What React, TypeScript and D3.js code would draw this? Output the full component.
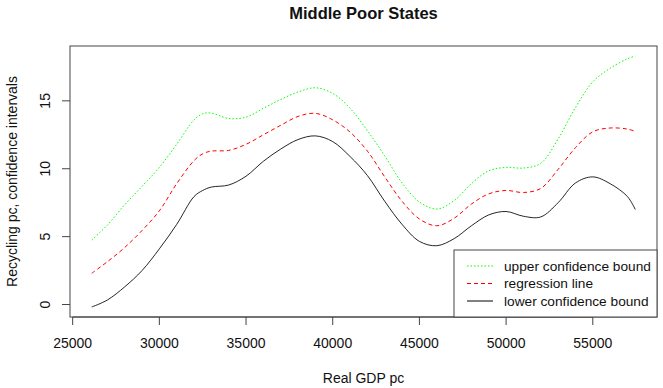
import React, { useEffect } from "react";
import * as d3 from "d3";

// GDP grid (x) and the three curves
const gdp = [26100, 27000, 28000, 29000, 30000, 31000, 32000, 32500, 33000, 34000, 35000, 36000, 37000, 38000, 39000, 40000, 41000, 42000, 43000, 44000, 45000, 46000, 47000, 48000, 49000, 50000, 51000, 52000, 53000, 54000, 55000, 56000, 57000, 57450];
const upper = [4.75, 5.85, 7.35, 8.7, 10.1, 11.8, 13.6, 14.05, 14.1, 13.7, 13.8, 14.45, 15.1, 15.65, 15.96, 15.55, 14.45, 12.8, 10.95, 8.95, 7.55, 7.03, 7.65, 8.9, 9.85, 10.1, 10.05, 10.4, 12.2, 14.5, 16.4, 17.4, 18.1, 18.3];
const regression = [2.3, 3.15, 4.2, 5.45, 6.9, 8.9, 10.6, 11.1, 11.3, 11.35, 11.8, 12.5, 13.2, 13.85, 14.08, 13.6, 12.7, 11.3, 9.4, 7.6, 6.3, 5.8, 6.35, 7.4, 8.15, 8.4, 8.25, 8.55, 9.95, 11.55, 12.72, 13.0, 12.92, 12.75];
const lower = [-0.18, 0.33, 1.3, 2.5, 4.1, 5.9, 7.95, 8.4, 8.65, 8.8, 9.45, 10.55, 11.45, 12.15, 12.42, 12.0, 10.9, 9.5, 7.6, 5.9, 4.65, 4.33, 4.85, 5.8, 6.6, 6.85, 6.5, 6.45, 7.5, 8.95, 9.4, 8.9, 7.95, 7.0];

const xTicks = [25000, 30000, 35000, 40000, 45000, 50000, 55000];
const yTicks = [0, 5, 10, 15];

const legendItems = [
  { label: "upper confidence bound", color: "#00ff00", dash: "1.5,2" },
  { label: "regression line", color: "#ff0000", dash: "4,3" },
  { label: "lower confidence bound", color: "#000000", dash: "none" },
];

const W = 663;
const H = 388;
const box = { left: 70, right: 657, top: 46, bottom: 317 };
const font = "'Liberation Sans', Arial, sans-serif";

export default function App() {
  useEffect(() => {
    document.body.style.margin = "0";
  }, []);

  // R style: 4% padding on each side of the data range
  const xMin = d3.min(gdp)!, xMax = d3.max(gdp)!;
  const yMin = d3.min(lower)!, yMax = d3.max(upper)!;
  const xPad = (xMax - xMin) * 0.04;
  const yPad = (yMax - yMin) * 0.04;

  const x = d3.scaleLinear().domain([xMin - xPad, xMax + xPad]).range([box.left, box.right]);
  const y = d3.scaleLinear().domain([yMin - yPad, yMax + yPad]).range([box.bottom, box.top]);

  const line = (vals: number[]) =>
    d3.line<number>()
      .x((_, i) => x(gdp[i]))
      .y((d) => y(d))
      .curve(d3.curveCatmullRom.alpha(0.5))(vals) || "";

  const series = [
    { vals: upper, ...legendItems[0] },
    { vals: regression, ...legendItems[1] },
    { vals: lower, ...legendItems[2] },
  ];

  const leg = { left: 454, top: 250 };

  return (
    <svg width={W} height={H} style={{ display: "block", background: "#fff" }} fontFamily={font}>
      <text x={(box.left + box.right) / 2} y={18.5} textAnchor="middle" fontWeight="bold" fontSize={16.5} fill="#111">
        Middle Poor States
      </text>

      {series.map((s) => (
        <path key={s.label} d={line(s.vals)} fill="none" stroke={s.color} strokeWidth={1}
          strokeDasharray={s.dash} opacity={s.color === "#000000" ? 0.85 : 1} />
      ))}

      {/* plot frame */}
      <rect x={box.left} y={box.top} width={box.right - box.left} height={box.bottom - box.top}
        fill="none" stroke="#444" strokeWidth={1} />

      {/* x axis */}
      <line x1={x(xTicks[0])} x2={x(xTicks[xTicks.length - 1])} y1={box.bottom} y2={box.bottom} stroke="#444" />
      {xTicks.map((t) => (
        <g key={t}>
          <line x1={x(t)} x2={x(t)} y1={box.bottom} y2={box.bottom + 8} stroke="#444" />
          <text x={x(t)} y={348.3} textAnchor="middle" fontSize={14} fill="#111">{t}</text>
        </g>
      ))}

      {/* y axis */}
      {yTicks.map((t) => (
        <g key={t}>
          <line x1={box.left - 8} x2={box.left} y1={y(t)} y2={y(t)} stroke="#444" />
          <text transform={`translate(45,${y(t)}) rotate(-90)`} textAnchor="middle" dominantBaseline="central"
            fontSize={14} fill="#111">{t}</text>
        </g>
      ))}

      <text x={(box.left + box.right) / 2} y={382.5} textAnchor="middle" fontSize={14} fill="#111">Real GDP pc</text>
      <text transform={`translate(12,${(box.top + box.bottom) / 2}) rotate(-90)`} textAnchor="middle"
        dominantBaseline="central" fontSize={14} fill="#111">
        Recycling pc, confidence intervals
      </text>

      {/* legend */}
      <rect x={leg.left} y={leg.top} width={box.right - leg.left} height={box.bottom - leg.top}
        fill="#fff" stroke="#444" strokeWidth={1} />
      {legendItems.map((d, i) => {
        const cy = 266 + i * 17.5;
        return (
          <g key={d.label}>
            <line x1={467} x2={493} y1={cy} y2={cy} stroke={d.color} strokeDasharray={d.dash} />
            <text x={504} y={cy} dominantBaseline="central" fontSize={13.7} fill="#111">{d.label}</text>
          </g>
        );
      })}
    </svg>
  );
}
